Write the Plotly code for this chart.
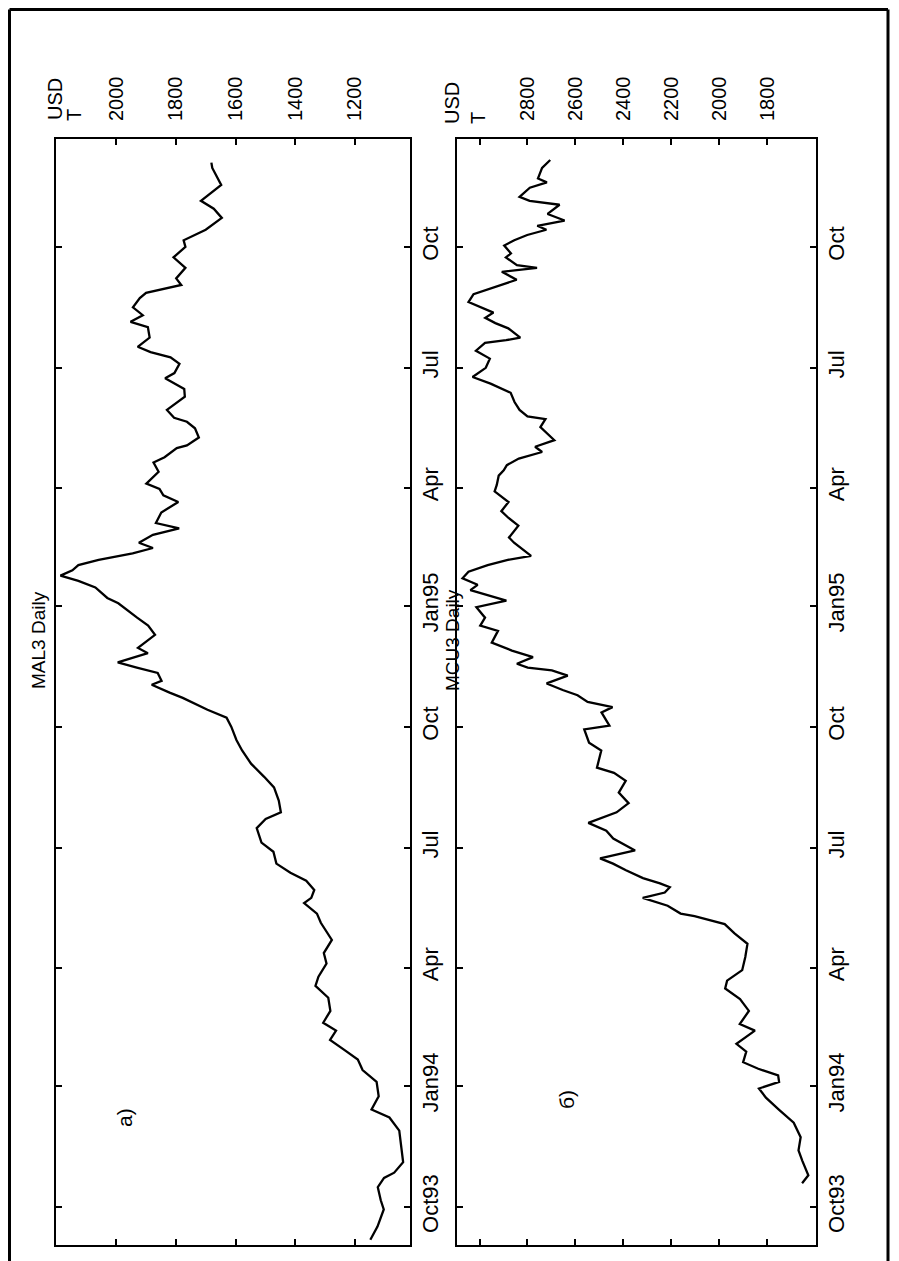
import plotly.graph_objects as go

# ---------------- data ----------------
al_dates = ["1993-09-06","1993-09-16","1993-09-29","1993-10-06","1993-10-16","1993-10-23","1993-10-27",
            "1993-11-04","1993-11-15","1993-11-28","1993-12-08","1993-12-14","1993-12-24","1994-01-04",
            "1994-01-13","1994-01-21","1994-01-28","1994-02-05","1994-02-12","1994-02-18","1994-02-27",
            "1994-03-09","1994-03-18","1994-03-25","1994-04-04","1994-04-12","1994-04-22","1994-05-05",
            "1994-05-12","1994-05-20","1994-05-24","1994-05-30","1994-06-06","1994-06-12","1994-06-19",
            "1994-06-28","1994-07-05","1994-07-16","1994-07-23","1994-07-28","1994-08-06","1994-08-16",
            "1994-08-24","1994-09-03","1994-09-13","1994-09-21","1994-10-01","1994-10-08","1994-10-14",
            "1994-10-20","1994-10-23","1994-10-27","1994-11-02","1994-11-05","1994-11-11","1994-11-15",
            "1994-11-19","1994-11-26","1994-11-30","1994-12-10","1994-12-17","1994-12-23","1994-12-29",
            "1995-01-03","1995-01-07","1995-01-15","1995-01-20","1995-01-24","1995-01-28","1995-02-01",
            "1995-02-05","1995-02-10","1995-02-14","1995-02-18","1995-02-24","1995-03-01","1995-03-05",
            "1995-03-13","1995-03-21","1995-03-26","1995-03-31","1995-04-04","1995-04-13","1995-04-20",
            "1995-04-24","1995-05-01","1995-05-03","1995-05-09","1995-05-16","1995-05-21","1995-05-24",
            "1995-05-30","1995-06-09","1995-06-15","1995-06-23","1995-06-27","1995-07-04","1995-07-09",
            "1995-07-13","1995-07-17","1995-07-24","1995-08-01","1995-08-05","1995-08-10","1995-08-16",
            "1995-08-23","1995-08-27","1995-08-30","1995-09-02","1995-09-07","1995-09-15","1995-09-23",
            "1995-10-01","1995-10-06","1995-10-10","1995-10-14","1995-10-23","1995-10-30","1995-11-05",
            "1995-11-17","1995-11-30","1995-12-04"]
al_prices = [1148,1124,1103,1113,1123,1102,1068,
             1038,1044,1051,1084,1144,1120,1127,
             1174,1190,1233,1283,1263,1306,1282,
             1289,1332,1322,1295,1304,1277,1314,
             1327,1370,1346,1336,1363,1416,1463,
             1473,1513,1529,1499,1448,1455,1471,
             1504,1548,1578,1597,1614,1630,1694,
             1747,1777,1821,1881,1848,1861,1931,
             1995,1894,1927,1870,1893,1930,1963,
             1993,2030,2070,2127,2187,2147,2127,
             2059,1945,1877,1924,1877,1789,1867,
             1849,1792,1842,1855,1899,1858,1875,
             1838,1797,1763,1723,1736,1763,1806,
             1830,1770,1772,1836,1805,1788,1818,
             1885,1928,1888,1894,1952,1911,1944,
             1921,1900,1836,1782,1799,1768,1808,
             1768,1774,1734,1700,1646,1673,1716,
             1648,1678,1681]

cu_dates = ["1993-10-19","1993-10-25","1993-11-05","1993-11-13","1993-11-23","1993-12-04","1993-12-14",
            "1993-12-23","1993-12-30","1994-01-04","1994-01-09","1994-01-14","1994-01-19","1994-01-27",
            "1994-02-02","1994-02-12","1994-02-17","1994-02-27","1994-03-08","1994-03-16","1994-03-22",
            "1994-03-30","1994-04-09","1994-04-19","1994-04-27","1994-05-04","1994-05-10","1994-05-12",
            "1994-05-18","1994-05-24","1994-05-28","1994-06-01","1994-06-04","1994-06-08","1994-06-14",
            "1994-06-19","1994-06-23","1994-06-29","1994-07-08","1994-07-14","1994-07-20","1994-07-28",
            "1994-08-04","1994-08-12","1994-08-21","1994-08-27","1994-08-31","1994-09-13","1994-09-19",
            "1994-09-29","1994-10-02","1994-10-12","1994-10-16","1994-10-20","1994-10-25","1994-10-29",
            "1994-11-03","1994-11-09","1994-11-13","1994-11-15","1994-11-18","1994-11-23","1994-11-28",
            "1994-12-04","1994-12-13","1994-12-17","1994-12-23","1994-12-31","1995-01-05","1995-01-13",
            "1995-01-17","1995-01-22","1995-01-27","1995-02-01","1995-02-05","1995-02-08","1995-02-18",
            "1995-02-22","1995-03-03","1995-03-09","1995-03-14","1995-03-21","1995-03-29","1995-04-03",
            "1995-04-10","1995-04-14","1995-04-18","1995-04-23","1995-04-28","1995-05-02","1995-05-07",
            "1995-05-17","1995-05-23","1995-05-25","1995-05-30","1995-06-05","1995-06-12","1995-06-15",
            "1995-06-19","1995-06-24","1995-07-01","1995-07-08","1995-07-14","1995-07-20","1995-07-22",
            "1995-07-24","1995-07-31","1995-08-04","1995-08-08","1995-08-12","1995-08-16","1995-08-20",
            "1995-08-26","1995-08-30","1995-09-02","1995-09-06","1995-09-12","1995-09-15","1995-09-17",
            "1995-09-23","1995-09-26","1995-10-02","1995-10-06","1995-10-10","1995-10-14","1995-10-17",
            "1995-10-21","1995-10-26","1995-11-02","1995-11-05","1995-11-08","1995-11-15","1995-11-19",
            "1995-11-22","1995-11-30","1995-12-06"]
cu_prices = [1654,1628,1653,1669,1660,1689,1751,
             1805,1834,1750,1754,1837,1900,1887,
             1928,1851,1914,1876,1913,1975,1967,
             1904,1891,1882,1936,1977,2103,2161,
             2215,2319,2227,2206,2247,2318,2389,
             2443,2497,2351,2442,2471,2546,2428,
             2378,2419,2390,2439,2510,2492,2543,
             2563,2458,2491,2445,2549,2591,2653,
             2720,2632,2698,2799,2844,2777,2865,
             2949,2923,2997,2977,3013,2888,3038,
             3008,3071,3046,2966,2882,2785,2856,
             2877,2838,2880,2909,2879,2937,2928,
             2920,2899,2886,2836,2739,2768,2688,
             2746,2725,2800,2833,2854,2870,2904,
             2954,3029,2974,2957,3015,2977,2889,
             2830,2880,2934,2976,2942,2996,3046,
             3025,2962,2912,2845,2907,2760,2844,
             2890,2869,2897,2855,2801,2721,2759,
             2645,2716,2666,2791,2833,2790,2719,
             2756,2739,2705]

date_tickvals = ["1993-10-01","1994-01-01","1994-04-01","1994-07-01","1994-10-01",
                 "1995-01-01","1995-04-01","1995-07-01","1995-10-01"]
date_ticktext = ["Oct93","Jan94","Apr","Jul","Oct","Jan95","Apr","Jul","Oct"]
al_tickvals = [2000, 1800, 1600, 1400, 1200]
al_ticktext = ["2000", "1800", "1600", "1400", "1200"]
cu_tickvals = [3000, 2800, 2600, 2400, 2200, 2000, 1800]
cu_ticktext = ["", "2800", "2600", "2400", "2200", "2000", "1800"]

# ---------------- figure ----------------
# the page body has an 8px margin, so the figure is drawn 8px smaller and
# all reference pixel positions are shifted by that offset
OFF = 8
W, H = 899 - OFF, 1261 - OFF
FONT = "Liberation Sans, Arial, sans-serif"

def px(x):
    return (x - OFF) / W

def py(y):
    return (H - (y - OFF)) / H

fig = go.Figure()
fig.add_trace(go.Scatter(x=al_prices, y=al_dates, mode="lines",
                         line=dict(color="black", width=2.3), xaxis="x", yaxis="y"))
fig.add_trace(go.Scatter(x=cu_prices, y=cu_dates, mode="lines",
                         line=dict(color="black", width=2.3), xaxis="x2", yaxis="y2"))

ydom = [py(1245), py(139)]
date_range = ["1993-09-02", "1995-12-22"]

common_x = dict(side="top", ticks="inside", ticklen=6, tickwidth=1.5, tickcolor="black",
                showline=True, linecolor="black", linewidth=2, mirror="ticks",
                tickangle=-90, tickfont=dict(family=FONT, size=20, color="black"),
                ticklabelstandoff=12,
                showgrid=False, zeroline=False, automargin=False, fixedrange=True)
common_y = dict(type="date", side="right", ticks="inside", ticklen=6, tickwidth=1.5,
                tickcolor="black", showline=True, linecolor="black", linewidth=2,
                mirror="ticks", tickangle=-90,
                tickfont=dict(family=FONT, size=22, color="black"),
                tickvals=date_tickvals, ticktext=date_ticktext, range=date_range,
                showgrid=False, zeroline=False, automargin=False, domain=ydom)

fig.update_layout(
    width=W, height=H,
    margin=dict(l=0, r=0, t=0, b=0),
    paper_bgcolor="white", plot_bgcolor="white",
    showlegend=False,
    xaxis=dict(domain=[px(56), px(410)], range=[2202, 1015], anchor="y",
               tickvals=al_tickvals, ticktext=al_ticktext, **common_x),
    yaxis=dict(anchor="x", **common_y),
    xaxis2=dict(domain=[px(457), px(816)], range=[3094, 1596], anchor="y2",
                tickvals=cu_tickvals, ticktext=cu_ticktext, **common_x),
    yaxis2=dict(anchor="x2", **common_y),
)

ann_font = dict(family=FONT, size=20, color="black")
annotations = [
    dict(text="MAL3 Daily", x=px(38), y=py(640), textangle=-90, font=dict(family=FONT, size=19, color="black")),
    dict(text="MCU3 Daily", x=px(452), y=py(640), textangle=-90, font=dict(family=FONT, size=19, color="black")),
    dict(text="USD", x=px(55), y=py(99), textangle=-90, font=ann_font),
    dict(text="T", x=px(74), y=py(115), textangle=-90, font=ann_font),
    dict(text="USD", x=px(452), y=py(103), textangle=-90, font=ann_font),
    dict(text="T", x=px(478), y=py(118), textangle=-90, font=ann_font),
    dict(text="a)", x=px(124), y=py(1117), textangle=-90, font=dict(family=FONT, size=21, color="black")),
    dict(text="б)", x=px(566), y=py(1100), textangle=-90, font=dict(family=FONT, size=21, color="black")),
]
for a in annotations:
    a.update(xref="paper", yref="paper", showarrow=False, xanchor="center", yanchor="middle")
fig.update_layout(annotations=annotations)

frame = dict(type="line", xref="paper", yref="paper", line=dict(color="black", width=3))
top_y = py(9.5)
fig.update_layout(shapes=[
    dict(frame, x0=px(9.5), x1=px(9.5), y0=0, y1=top_y),
    dict(frame, x0=px(9.5), x1=px(888), y0=top_y, y1=top_y),
    dict(frame, x0=px(888), x1=px(888), y0=0, y1=top_y),
])

fig.write_html("out.html")
